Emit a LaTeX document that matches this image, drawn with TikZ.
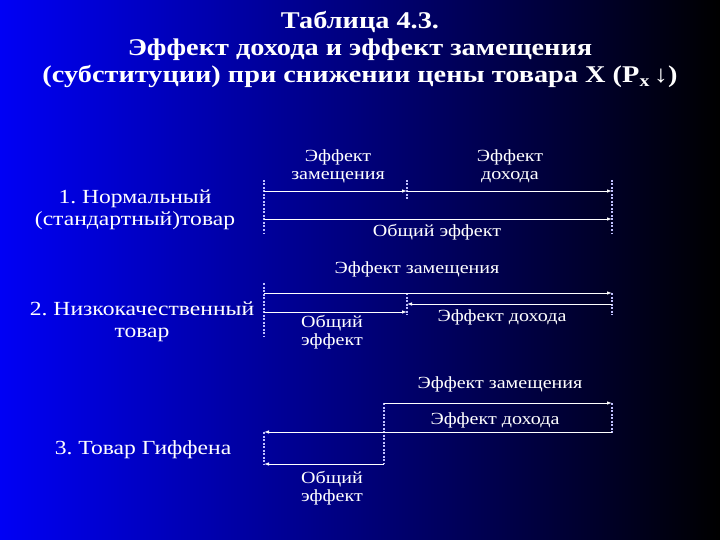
\documentclass[tikz,border=0pt]{standalone}
\usepackage{fontspec}
\setmainfont[FakeStretch=1.18]{Liberation Serif}
\usetikzlibrary{arrows.meta}
\frenchspacing
\begin{document}
\begin{tikzpicture}[x=1pt,y=-1pt,
  title/.style={text=white, inner sep=0pt, align=center, font=\fontsize{24}{27}\selectfont\bfseries},
  txt/.style={text=white, inner sep=0pt, align=center, font=\fontsize{17}{18}\selectfont},
  lbl/.style={text=white, inner sep=0pt, align=center, font=\fontsize{20}{22}\selectfont},
  arr/.style={draw=white, line width=0.8pt, -{Latex[length=5pt,width=3.5pt]}},
  dsh/.style={draw=white!75!blue, line width=1.2pt, dash pattern=on 2pt off 1.5pt}]
\shade[left color={rgb,255:red,0;green,0;blue,245}, right color=black] (0,0) rectangle (720,540);
\useasboundingbox (0,0) rectangle (720,540);
% title
\node[title] (t) at (360,50) {Таблица 4.3.\\Эффект дохода и эффект замещения\\(субституции) при снижении цены товара X (P\textsubscript{x}\,↓)};
% left labels
\node[lbl] (l1) at (135,210) {1. Нормальный\\(стандартный)товар};
\node[lbl] (l2) at (142,322) {\fontsize{20}{24}\selectfont 2. Низкокачественный\\товар};
\node[lbl] (l3) at (143,450) {3. Товар Гиффена};
% row 1
\coordinate (a1) at (264,191); \coordinate (a2) at (407,191); \coordinate (a3) at (612,191);
\coordinate (b1) at (264,219); \coordinate (b2) at (612,219);
\coordinate (d1t) at (264,180); \coordinate (d1b) at (264,233);
\coordinate (d2t) at (407,180); \coordinate (d2b) at (407,200);
\coordinate (d3t) at (612,180); \coordinate (d3b) at (612,233);
\draw[dsh] (d1t) -- (d1b); \draw[dsh] (d2t) -- (d2b); \draw[dsh] (d3t) -- (d3b);
\draw[arr] (a1) -- (a2); \draw[arr] (a2) -- (a3); \draw[arr] (b1) -- (b2);
\node[txt] (s1) at (338,166) {Эффект\\замещения};
\node[txt] (i1) at (510,166) {Эффект\\дохода};
\node[txt] (o1) at (437,232) {Общий эффект};
% row 2
\coordinate (c1) at (264,293); \coordinate (c2) at (612,293);
\coordinate (e1) at (612,304); \coordinate (e2) at (407,304);
\coordinate (f1) at (264,312); \coordinate (f2) at (407,312);
\coordinate (g1t) at (264,283); \coordinate (g1b) at (264,337);
\coordinate (g2t) at (407,293); \coordinate (g2b) at (407,315);
\coordinate (g3t) at (612,293); \coordinate (g3b) at (612,315);
\draw[dsh] (g1t) -- (g1b); \draw[dsh] (g2t) -- (g2b); \draw[dsh] (g3t) -- (g3b);
\draw[arr] (c1) -- (c2); \draw[arr] (e1) -- (e2); \draw[arr] (f1) -- (f2);
\node[txt] (s2) at (417,269) {Эффект замещения};
\node[txt] (i2) at (502,317) {Эффект дохода};
\node[txt] (o2) at (332,332) {Общий\\эффект};
% row 3
\coordinate (h1) at (384,403); \coordinate (h2) at (612,403);
\coordinate (k1) at (612,432); \coordinate (k2) at (264,432);
\coordinate (m1) at (384,464); \coordinate (m2) at (264,464);
\coordinate (n1t) at (384,403); \coordinate (n1b) at (384,464);
\coordinate (n2t) at (612,403); \coordinate (n2b) at (612,433);
\coordinate (n3t) at (264,432); \coordinate (n3b) at (264,464);
\draw[dsh] (n1t) -- (n1b); \draw[dsh] (n2t) -- (n2b); \draw[dsh] (n3t) -- (n3b);
\draw[arr] (h1) -- (h2); \draw[arr] (k1) -- (k2); \draw[arr] (m1) -- (m2);
\node[txt] (s3) at (500,384) {Эффект замещения};
\node[txt] (i3) at (495,420) {Эффект дохода};
\node[txt] (o3) at (332,488) {Общий\\эффект};
\end{tikzpicture}
\end{document}
